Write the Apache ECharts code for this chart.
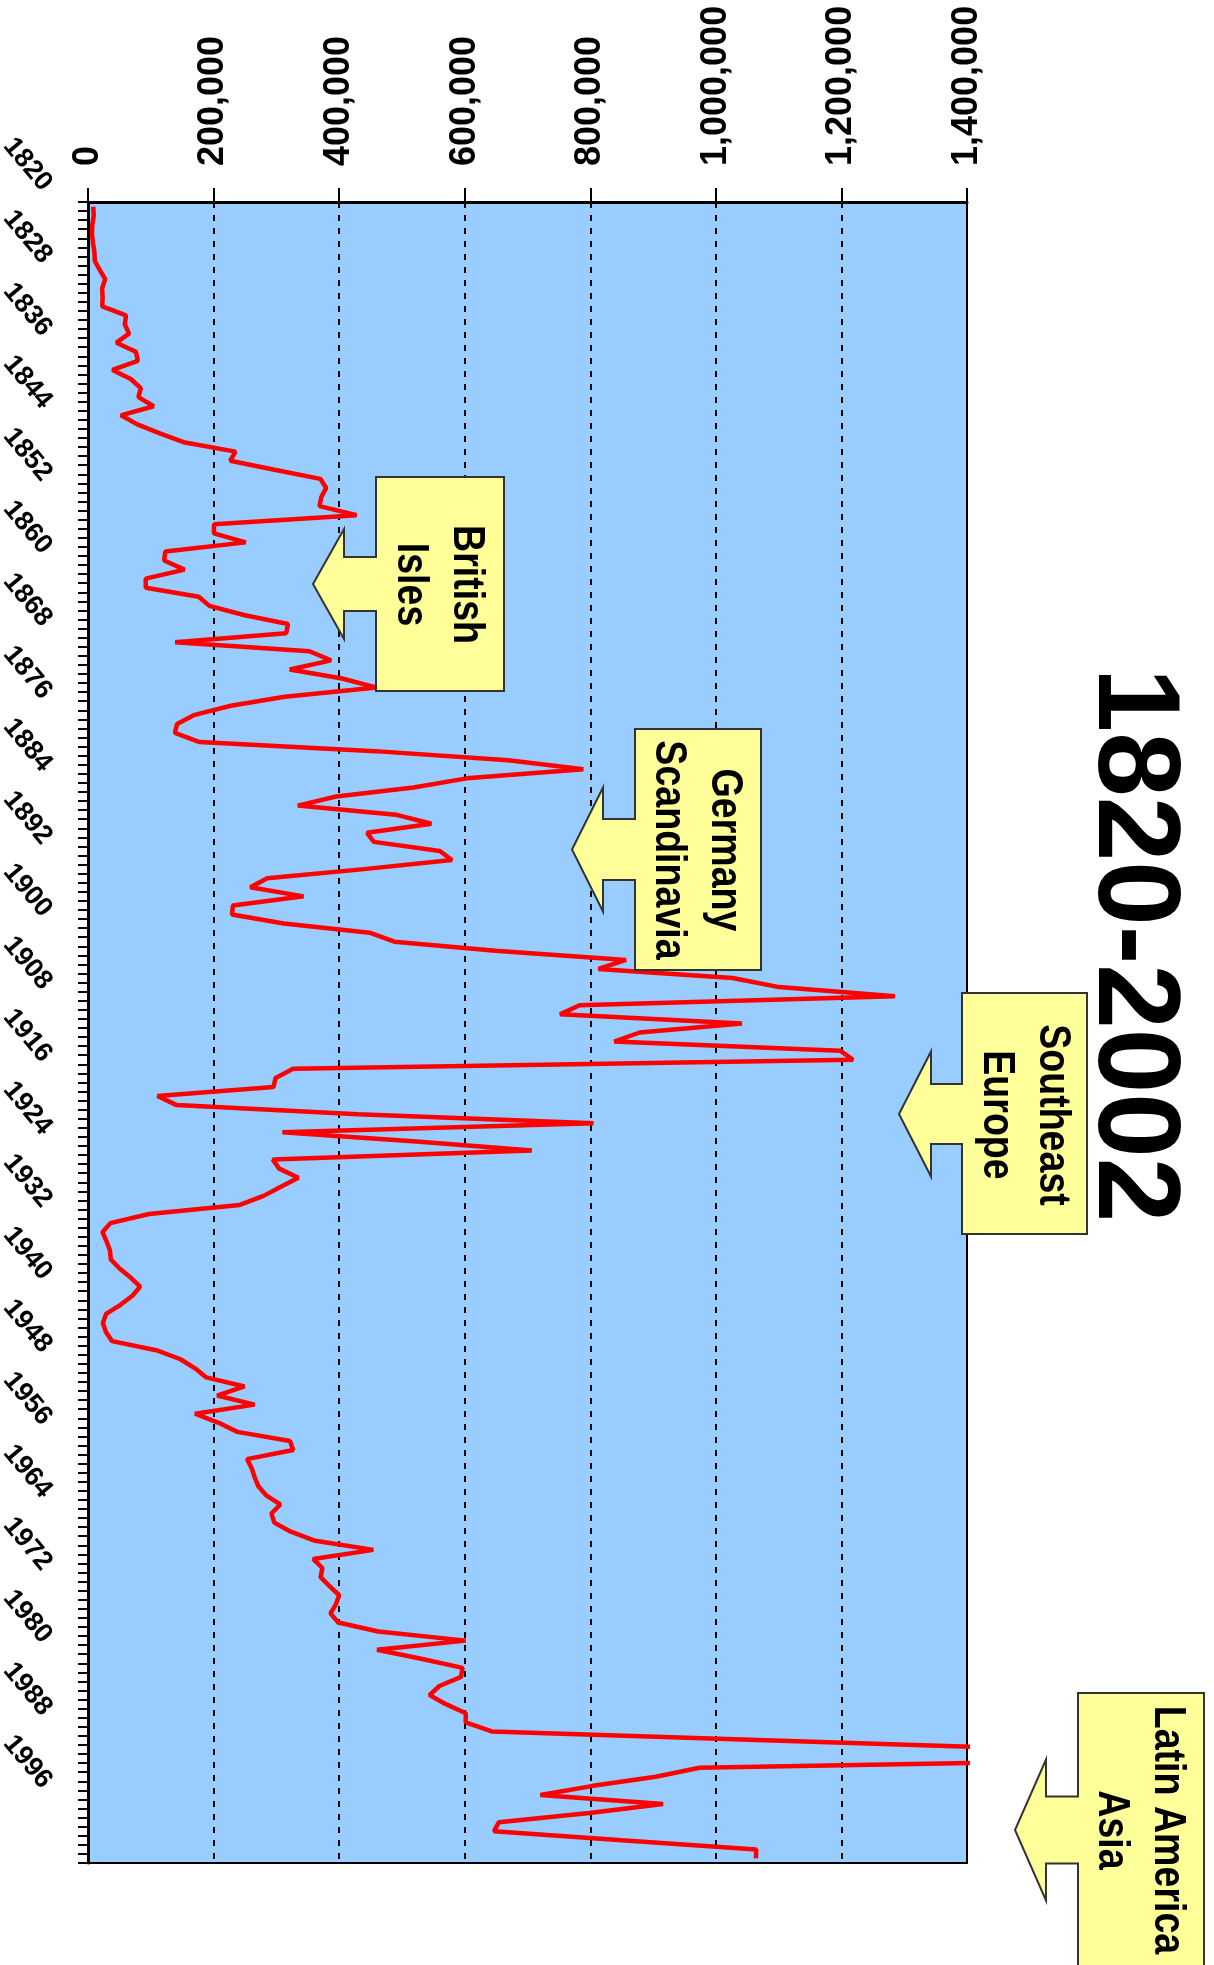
<!DOCTYPE html>
<html>
<head>
<meta charset="utf-8">
<script src="https://cdn.jsdelivr.net/npm/echarts@6/dist/echarts.min.js"></script>
<style>
html,body{margin:0;padding:0;background:#fff;}
#chart{width:1214px;height:1965px;}
</style>
</head>
<body>
<div id="chart"></div>
<script>
// ---- data ----
const startYear = 1820;
const endYear = 2002;
const years = [];
for (let y = startYear; y <= endYear; y++) years.push(String(y));

// Immigrants admitted per year, 1820-2002
const immigrants = [
  8385, 9127, 6911, 6354, 7912, 10199, 10837, 18875, 27382, 22520,
  23322, 22633, 60482, 58640, 65365, 45374, 76242, 79340, 38914, 68069,
  84066, 80289, 104565, 52496, 78615, 114371, 154416, 234968, 226527, 297024,
  369980, 379466, 371603, 368645, 427833, 200877, 200436, 251306, 123126, 121282,
  153640, 91918, 91985, 176282, 193418, 248120, 318568, 315722, 138840, 352768,
  387203, 321350, 404806, 459803, 313339, 227498, 169986, 141857, 138469, 177826,
  457257, 669431, 788992, 603322, 518592, 395346, 334203, 490109, 546889, 444427,
  455302, 560319, 579663, 439730, 285631, 258536, 343267, 230832, 229299, 311715,
  448572, 487918, 648743, 857046, 812870, 1026499, 1100735, 1285349, 782870, 751786,
  1041570, 878587, 838172, 1197892, 1218480, 326700, 298826, 295403, 110618, 141132,
  430001, 805228, 309556, 522919, 706896, 294314, 304488, 335175, 307255, 279678,
  241700, 97139, 35576, 23068, 29470, 34956, 36329, 50244, 67895, 82998,
  70756, 51776, 28781, 23725, 28551, 38119, 108721, 147292, 170570, 188317,
  249187, 205717, 265520, 170434, 208177, 237790, 321625, 326867, 253265, 260686,
  265398, 271344, 283763, 306260, 292248, 296697, 323040, 361972, 454448, 358579,
  373326, 370478, 384685, 400063, 394861, 386194, 398613, 462315, 601442, 460348,
  530639, 596600, 594131, 559763, 543903, 570009, 601708, 601516, 643025, 1090924,
  1536483, 1827167, 973977, 904292, 804416, 720461, 915900, 798378, 654451, 646568,
  849807, 1064318, 1063732
];

const valueMin = 0;
const valueMax = 1400000;
const valueStep = 200000;

const titleText = '1820-2002';
const calloutTexts = [
  ['British', 'Isles'],
  ['Germany', 'Scandinavia'],
  ['Southeast', 'Europe'],
  ['Latin America', 'Asia']
];

// ---- layout of annotations (positions / sizes only) ----
const calloutLayout = [
  {left: 376, top: 477, w: 128, h: 214, cy: 584, stemHalf: 27, headHalf: 55, stemLen: 32, headLen: 31, tx: 438, ty: 584.5},
  {left: 635, top: 729, w: 126, h: 241, cy: 849.5, stemHalf: 30.5, headHalf: 62, stemLen: 32, headLen: 31, tx: 696.5, ty: 850},
  {left: 962, top: 993, w: 125, h: 241, cy: 1114, stemHalf: 30, headHalf: 62.5, stemLen: 31, headLen: 32, tx: 1024, ty: 1115},
  {left: 1078, top: 1693, w: 126, h: 280, cy: 1830, stemHalf: 33.5, headHalf: 70.5, stemLen: 32, headLen: 31, tx: 1139.5, ty: 1830}
];

function calloutPoints(c) {
  const x0 = c.left, x1 = c.left + c.w, y0 = c.top, y1 = c.top + c.h;
  const sx = x0 - c.stemLen, tipX = sx - c.headLen;
  return [
    [x0, y0], [x1, y0], [x1, y1], [x0, y1],
    [x0, c.cy + c.stemHalf], [sx, c.cy + c.stemHalf], [sx, c.cy + c.headHalf],
    [tipX, c.cy],
    [sx, c.cy - c.headHalf], [sx, c.cy - c.stemHalf], [x0, c.cy - c.stemHalf]
  ];
}

const FONT = '"Liberation Sans", Arial, Helvetica, sans-serif';

const graphics = [];
calloutLayout.forEach((c, i) => {
  graphics.push({
    type: 'polygon', z: 100,
    shape: {points: calloutPoints(c)},
    style: {fill: '#FFFF99', stroke: '#333333', lineWidth: 2}
  });
  graphics.push({
    type: 'text', z: 101,
    x: c.tx, y: c.ty, rotation: -Math.PI / 2, scaleX: 0.835,
    style: {
      text: calloutTexts[i].join('\n'),
      font: 'bold 45px ' + FONT,
      fill: '#000', align: 'center', verticalAlign: 'middle', lineHeight: 56
    }
  });
});
graphics.push({
  type: 'text', z: 101,
  x: 1130.5, y: 945, rotation: -Math.PI / 2,
  style: {
    text: titleText,
    font: 'bold 116px ' + FONT,
    fill: '#000', align: 'center', verticalAlign: 'middle'
  }
});

const chart = echarts.init(document.getElementById('chart'), null, {renderer: 'canvas'});
chart.setOption({
  animation: false,
  backgroundColor: '#ffffff',
  grid: {
    left: 88, top: 202, width: 879, height: 1661,
    show: true, backgroundColor: '#99CCFF', borderColor: '#000', borderWidth: 2,
    containLabel: false, outerBoundsMode: 'none'
  },
  xAxis: {
    type: 'value', position: 'top',
    min: valueMin, max: valueMax, interval: valueStep,
    axisLine: {show: true, lineStyle: {color: '#000', width: 3}},
    axisTick: {show: true, length: 14, lineStyle: {color: '#000', width: 2}},
    axisLabel: {
      rotate: -90, margin: 36, color: '#000',
      fontFamily: FONT, fontWeight: 'bold', fontSize: 36,
      formatter: v => Number(v).toLocaleString('en-US')
    },
    splitLine: {show: true, lineStyle: {color: '#000', width: 2, type: [6, 7]}}
  },
  yAxis: {
    type: 'category', data: years, inverse: true, boundaryGap: true,
    axisLine: {show: true, onZero: false, lineStyle: {color: '#000', width: 3}},
    axisTick: {show: true, interval: 0, length: 10, lineStyle: {color: '#000', width: 2}},
    axisLabel: {
      interval: 7, rotate: -50, margin: 25, padding: [0, 25, 0, 0],
      color: '#000', fontFamily: FONT, fontWeight: 'bold', fontSize: 27
    },
    splitLine: {show: false}
  },
  series: [{
    type: 'line', data: immigrants, symbol: 'none', clip: true,
    lineStyle: {color: '#FF0000', width: 4.5}, z: 3
  }],
  graphic: graphics
});
</script>
</body>
</html>
